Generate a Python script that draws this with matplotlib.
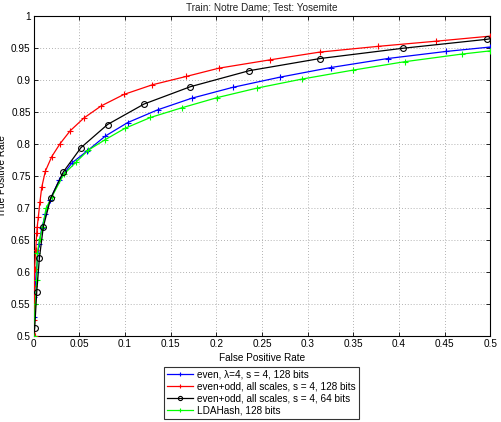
import matplotlib
matplotlib.use("Agg")
import matplotlib.pyplot as plt
import numpy as np

plt.rcParams['font.family'] = ['Liberation Sans', 'DejaVu Sans']

title = "Train: Notre Dame; Test: Yosemite"
xlabel = "False Positive Rate"
ylabel = "True Positive Rate"

labels = ["even, \u03bb=4, s = 4, 128 bits",
          "even+odd, all scales, s = 4, 128 bits",
          "even+odd, all scales, s = 4, 64 bits",
          "LDAHash, 128 bits"]

blue_x = [0.0, 0.0005, 0.001, 0.003, 0.006, 0.009, 0.013, 0.018, 0.028, 0.042, 0.059, 0.0786, 0.103, 0.136, 0.173, 0.218, 0.270, 0.3255, 0.3875, 0.451, 0.5]
blue_y = [0.5, 0.53, 0.561, 0.60, 0.644, 0.668, 0.69, 0.712, 0.743, 0.770, 0.789, 0.812, 0.833, 0.853, 0.871, 0.888, 0.904, 0.919, 0.933, 0.944, 0.951]

red_x = [0.0016, 0.0, 0.001, 0.001, 0.0012, 0.0024, 0.0035, 0.004, 0.0053, 0.007, 0.009, 0.0129, 0.020, 0.029, 0.040, 0.055, 0.074, 0.099, 0.130, 0.167, 0.203, 0.259, 0.313, 0.377, 0.440, 0.5]
red_y = [0.5, 0.525, 0.55, 0.578, 0.605, 0.634, 0.66, 0.67, 0.686, 0.709, 0.732, 0.757, 0.780, 0.800, 0.820, 0.840, 0.859, 0.877, 0.892, 0.905, 0.918, 0.931, 0.943, 0.952, 0.960, 0.968]

black_x = [0.0, 0.0013, 0.0035, 0.0064, 0.0107, 0.0188, 0.0326, 0.052, 0.081, 0.121, 0.1716, 0.236, 0.3135, 0.404, 0.496, 0.5]
black_y = [0.5, 0.5125, 0.568, 0.621, 0.670, 0.715, 0.756, 0.794, 0.830, 0.862, 0.889, 0.914, 0.933, 0.949, 0.963, 0.964]
black_marked = [1, 2, 3, 4, 5, 6, 7, 8, 9, 10, 11, 12, 13, 14]

green_x = [0.0, 0.002, 0.0035, 0.004, 0.007, 0.010, 0.0137, 0.020, 0.033, 0.047, 0.060, 0.078, 0.100, 0.128, 0.162, 0.201, 0.245, 0.294, 0.350, 0.406, 0.469, 0.5]
green_y = [0.5, 0.55, 0.587, 0.629, 0.652, 0.670, 0.699, 0.717, 0.752, 0.772, 0.790, 0.806, 0.824, 0.841, 0.856, 0.872, 0.887, 0.901, 0.915, 0.928, 0.940, 0.945]

fig = plt.figure(figsize=(5.01, 4.22), dpi=100)
ax = fig.add_axes([0.0669, 0.204, 0.912, 0.759])

fs = 7.2
ax.plot(blue_x, blue_y, color="#0000ff", lw=0.9, marker="+", ms=4.5, mew=0.8, label=labels[0], zorder=3)
ax.plot(red_x, red_y, color="#ff0000", lw=0.9, marker="+", ms=4.5, mew=0.8, label=labels[1], zorder=3)
ax.plot(black_x, black_y, color="black", lw=0.9, marker="o", ms=4.2, mfc="none", mew=0.8,
        markevery=black_marked, label=labels[2], zorder=4)
ax.plot(green_x, green_y, color="#00ff00", lw=0.9, marker="+", ms=4.5, mew=0.8, label=labels[3], zorder=3)

ax.set_xlim(0, 0.5)
ax.set_ylim(0.5, 1.0)
xt = np.arange(0, 0.501, 0.05)
yt = np.arange(0.5, 1.001, 0.05)
ax.set_xticks(xt)
ax.set_yticks(yt)
ax.set_xticklabels(["0"] + [("%g" % v) for v in xt[1:]], fontsize=fs)
ax.set_yticklabels([("%g" % v) for v in yt], fontsize=fs)
ax.tick_params(direction="in", top=True, right=True, length=3, width=0.6, pad=2)
ax.grid(True, linestyle=(0, (1, 2.5)), color="#999999", lw=0.6)
for s in ax.spines.values():
    s.set_linewidth(0.8)
ax.set_title(title, fontsize=fs, color="#222222", pad=4)
ax.set_xlabel(xlabel, fontsize=fs, labelpad=3)
ax.set_ylabel(ylabel, fontsize=fs, labelpad=3)

leg = fig.legend(loc="upper center", bbox_to_anchor=(0.522, 0.131), fontsize=7.2,
                 frameon=True, fancybox=False, edgecolor="black", borderpad=0.3,
                 labelspacing=0.2, handlelength=2.6, handletextpad=0.4, borderaxespad=0)
leg.get_frame().set_linewidth(0.8)
for h in leg.legend_handles:
    h.set_markersize(3)

fig.savefig("out.png", dpi=100)
